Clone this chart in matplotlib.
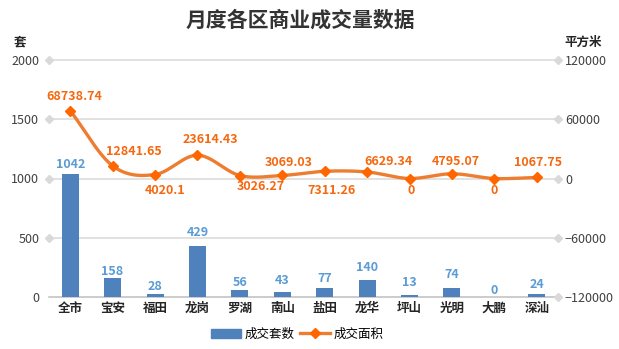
import matplotlib
matplotlib.use("Agg")
import matplotlib.pyplot as plt
import numpy as np

plt.rcParams["font.family"] = ["Noto Sans CJK SC", "DejaVu Sans"]

districts = ["全市", "宝安", "福田", "龙岗", "罗湖", "南山", "盐田", "龙华", "坪山", "光明", "大鹏", "深汕"]
units = [1042, 158, 28, 429, 56, 43, 77, 140, 13, 74, 0, 24]
area = [68738.74, 12841.65, 4020.1, 23614.43, 3026.27, 3069.03, 7311.26, 6629.34, 0, 4795.07, 0, 1067.75]
area_labels = ["68738.74", "12841.65", "4020.1", "23614.43", "3026.27", "3069.03",
               "7311.26", "6629.34", "0", "4795.07", "0", "1067.75"]

# label offsets in pixels (dx, dy) for the area labels
area_offsets = [(4, 14), (21, 14), (10, -16), (13, 16), (21, -11), (6, 13),
                (7, -19), (21, 10), (2, -12), (4, 12), (0, -12), (1, 15)]
# vertical offsets in pixels for the unit labels
unit_offsets = [9, 7, 7, 14, 8, 11, 9, 13, 13, 14, 7, 10]

BAR = "#4F81BD"
LINE = "#ED7D31"
LBL_ORANGE = "#F5680F"
LBL_BLUE = "#5B9BD5"
GRID = "#D9D9D9"


def catmull_rom(xs, ys, n=24):
    xs = np.asarray(xs, float)
    ys = np.asarray(ys, float)
    px = np.concatenate([[2 * xs[0] - xs[1]], xs, [2 * xs[-1] - xs[-2]]])
    py = np.concatenate([[2 * ys[0] - ys[1]], ys, [2 * ys[-1] - ys[-2]]])
    out_x, out_y = [], []
    t = np.linspace(0, 1, n, endpoint=False)
    for i in range(1, len(px) - 2):
        for arr, out in ((px, out_x), (py, out_y)):
            p0, p1, p2, p3 = arr[i - 1], arr[i], arr[i + 1], arr[i + 2]
            out.extend(0.5 * (2 * p1 + (-p0 + p2) * t
                              + (2 * p0 - 5 * p1 + 4 * p2 - p3) * t ** 2
                              + (-p0 + 3 * p1 - 3 * p2 + p3) * t ** 3))
    out_x.append(xs[-1])
    out_y.append(ys[-1])
    return np.array(out_x), np.array(out_y)


fig = plt.figure(figsize=(6.19, 3.49), dpi=100)
ax = fig.add_axes([49 / 619, 1 - 297 / 349, (558 - 49) / 619, (297 - 60) / 349])
x = np.arange(len(districts))

ax.set_xlim(-0.5, len(districts) - 0.5)
ax.set_ylim(0, 2000)
ax.set_yticks([0, 500, 1000, 1500, 2000])
for yv in [500, 1000, 1500, 2000]:
    ax.plot([-0.5, len(districts) - 0.5], [yv, yv], color=GRID, lw=1.1,
            marker="D", markersize=4, clip_on=False, zorder=0)
ax.plot([-0.5, len(districts) - 0.5], [0, 0], color="#BFBFBF", lw=1.1, clip_on=False, zorder=0)
ax.plot([len(districts) - 0.5], [0], color=GRID, marker="D", markersize=4, clip_on=False, zorder=0)

ax.bar(x, units, width=0.4, color=BAR, zorder=2)
for xi, v, dy in zip(x, units, unit_offsets):
    ax.annotate(str(v), (xi, v), xytext=(0, dy), textcoords="offset pixels",
                ha="center", va="center", color=LBL_BLUE, fontsize=9, fontweight="bold")

for s in ax.spines.values():
    s.set_visible(False)
ax.tick_params(axis="both", length=0, labelsize=9, colors="#404040")
ax.tick_params(axis="y", pad=7)
ax.set_xticks(x)
ax.set_xticklabels(districts, fontsize=9, fontweight="bold", color="#262626")

ax2 = ax.twinx()
ax2.set_ylim(-120000, 120000)
ax2.set_yticks([-120000, -60000, 0, 60000, 120000])
for s in ax2.spines.values():
    s.set_visible(False)
ax2.tick_params(axis="y", length=0, labelsize=9, colors="#404040", pad=5)

sx, sy = catmull_rom(x, area)
ax2.plot(sx, sy, color=LINE, lw=2.4, zorder=3)
ax2.plot(x, area, linestyle="none", marker="D", markersize=5, color="#FF6600", zorder=4)
for xi, v, txt, (dx, dy) in zip(x, area, area_labels, area_offsets):
    ax2.annotate(txt, (xi, v), xytext=(dx, dy), textcoords="offset pixels",
                 ha="center", va="center", color=LBL_ORANGE, fontsize=9, fontweight="bold")

fig.text(300 / 619, 1 - 20 / 349, "月度各区商业成交量数据", ha="center", va="center",
         fontsize=15, fontweight="bold", color="#333333")
fig.text(20 / 619, 1 - 42 / 349, "套", ha="center", va="center", fontsize=9,
         fontweight="bold", color="#262626")
fig.text(583 / 619, 1 - 42 / 349, "平方米", ha="center", va="center", fontsize=9,
         fontweight="bold", color="#262626")

handles = [plt.Rectangle((0, 0), 1, 1, color=BAR),
           plt.Line2D([0], [0], color=LINE, lw=2.4, marker="D", markersize=5,
                      markerfacecolor="#FF6600", markeredgecolor="#FF6600")]
fig.legend(handles, ["成交套数", "成交面积"], loc="center", ncol=2, frameon=False,
           bbox_to_anchor=(0.48, 1 - 334 / 349), fontsize=9, handlelength=2.4,
           columnspacing=0.4, handletextpad=0.3)

fig.savefig("out.png", dpi=100)
